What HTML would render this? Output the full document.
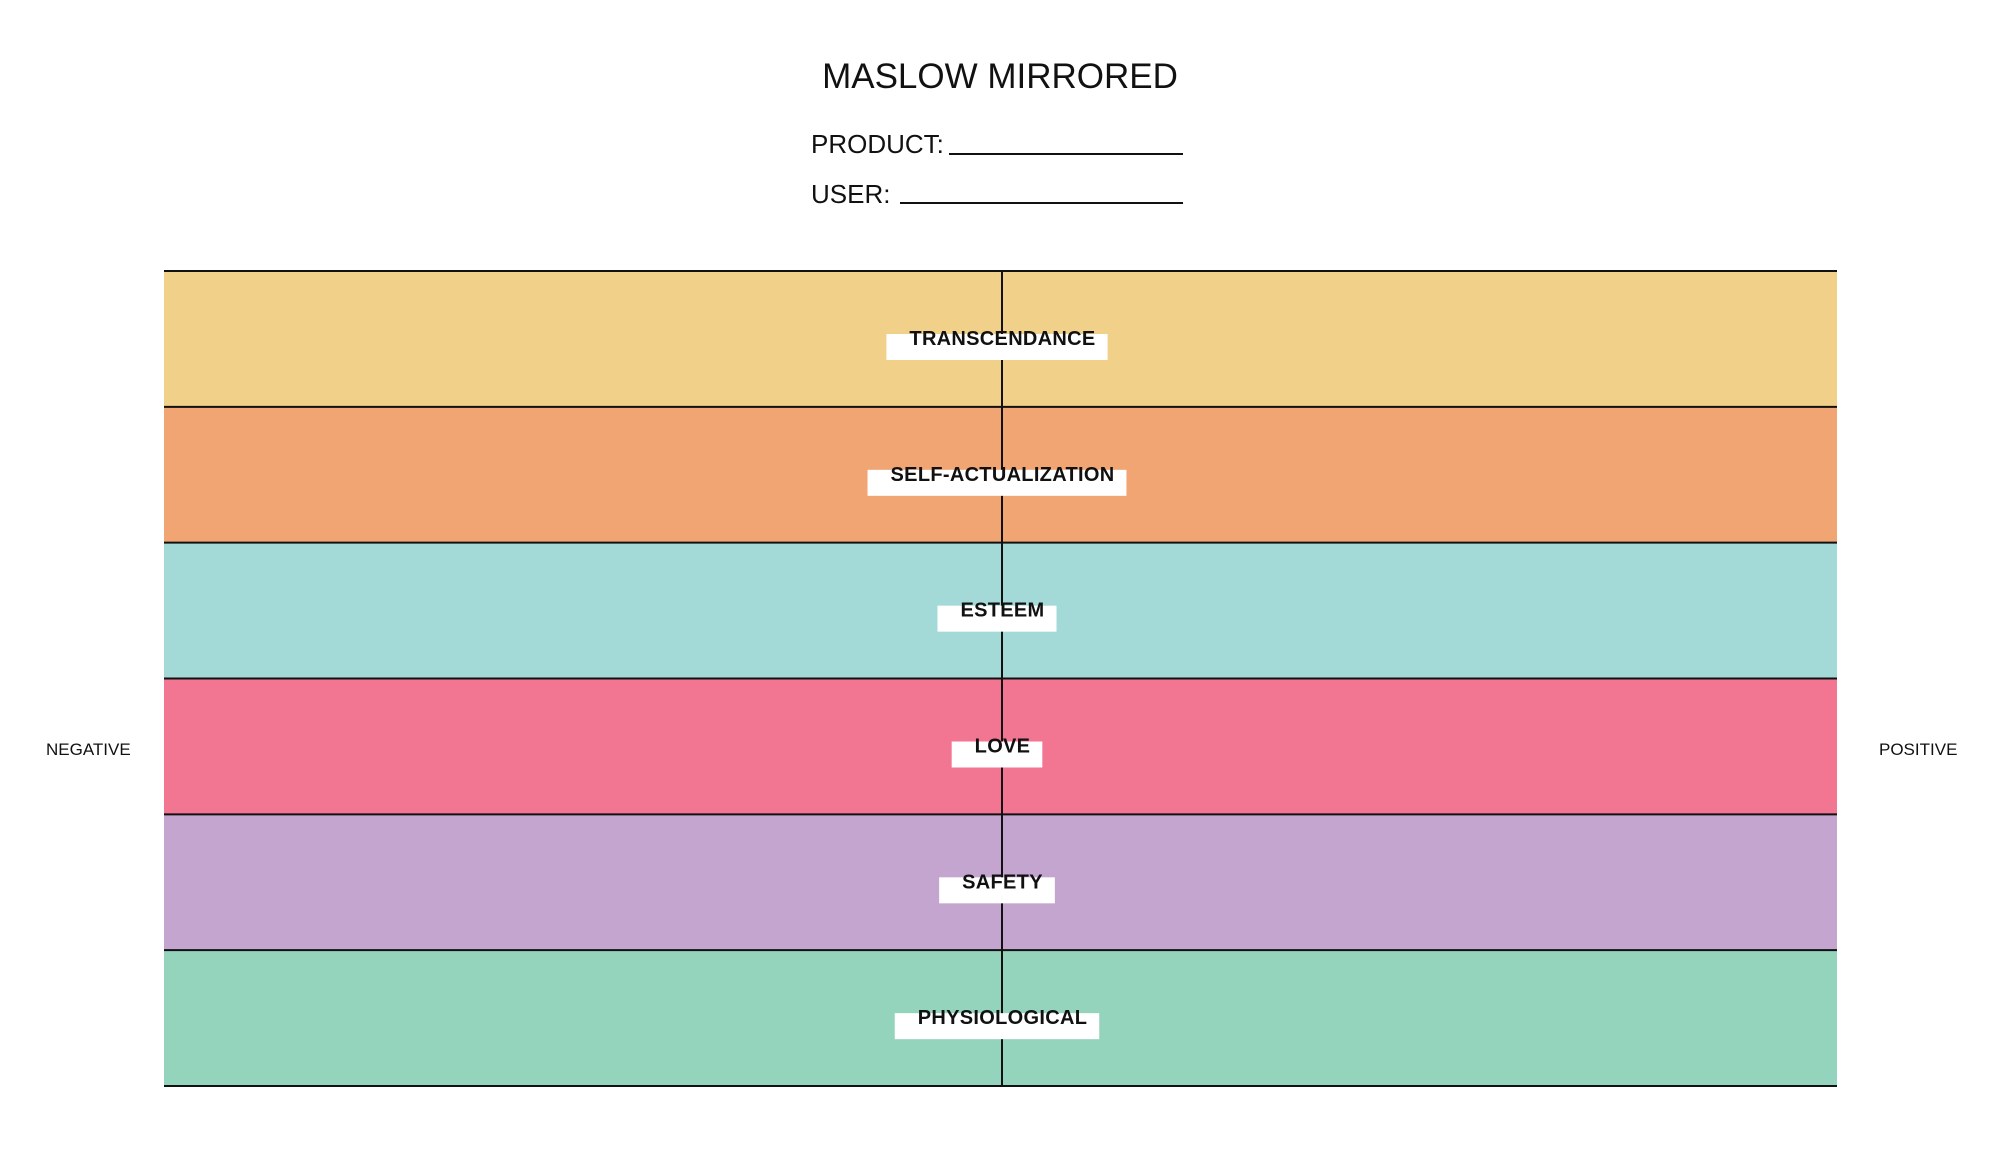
<!DOCTYPE html>
<html><head><meta charset="utf-8"><style>
html,body{margin:0;padding:0;background:#fff;}
svg{display:block;font-family:"Liberation Sans",sans-serif;}
</style></head><body>
<svg id="chart" width="2000" height="1161" viewBox="0 0 2000 1161">
  <text x="1000" y="88" text-anchor="middle" font-size="35" fill="#111">MASLOW MIRRORED</text>
  <text x="811" y="153" font-size="26" fill="#111">PRODUCT:</text>
  <line x1="949" y1="154" x2="1183" y2="154" stroke="#111" stroke-width="2"/>
  <text x="811" y="203" font-size="26" fill="#111">USER:</text>
  <line x1="900" y1="203" x2="1183" y2="203" stroke="#111" stroke-width="2"/>
  <text x="46" y="755" font-size="17" fill="#111">NEGATIVE</text>
  <text x="1879" y="755" font-size="17" fill="#111">POSITIVE</text>
  <g id="bands"></g>
</svg>
<script>
const levels = ["TRANSCENDANCE","SELF-ACTUALIZATION","ESTEEM","LOVE","SAFETY","PHYSIOLOGICAL"];
const colors = ["#F1D18A","#F0A573","#A3D9D7","#F27592","#C4A5CF","#94D4BD"];
const NS = "http://www.w3.org/2000/svg";
const plotLeft = 164, plotRight = 1837, plotTop = 271, plotBottom = 1086, midX = 1002;
const bh = (plotBottom - plotTop) / levels.length;
const g = document.getElementById('bands');
function yOf(i){ return plotTop + i * bh; }
levels.forEach((name, i) => {
  const r = document.createElementNS(NS, 'rect');
  r.setAttribute('x', plotLeft); r.setAttribute('y', yOf(i));
  r.setAttribute('width', plotRight - plotLeft); r.setAttribute('height', bh);
  r.setAttribute('fill', colors[i]);
  
  
  g.appendChild(r);
});
for (let i = 0; i <= levels.length; i++) {
  const l = document.createElementNS(NS, 'line');
  l.setAttribute('x1', plotLeft); l.setAttribute('x2', plotRight);
  l.setAttribute('y1', yOf(i)); l.setAttribute('y2', yOf(i));
  l.setAttribute('stroke', '#111'); l.setAttribute('stroke-width', '2');
  
  
  g.appendChild(l);
}
const axisLine = document.createElementNS(NS, 'line');
axisLine.setAttribute('x1', midX); axisLine.setAttribute('x2', midX);
axisLine.setAttribute('y1', plotTop); axisLine.setAttribute('y2', plotBottom);
axisLine.setAttribute('stroke', '#111'); axisLine.setAttribute('stroke-width', '2');


g.appendChild(axisLine);
levels.forEach((name, i) => {
  const t = document.createElementNS(NS, 'text');
  t.textContent = name;
  t.setAttribute('font-size', '20'); t.setAttribute('font-weight', 'bold');
  t.setAttribute('fill', '#111');
  t.setAttribute('letter-spacing', '0.3');
  t.setAttribute('y', yOf(i) + 74);
  
  
  g.appendChild(t);
  let w = 0;
  try { w = t.getComputedTextLength(); } catch (e) { w = name.length * 13; }
  if (!w) w = name.length * 13;
  const boxW = w + 35;
  const bx = midX - 5 - boxW / 2;
  t.setAttribute('x', bx + 23);
  const b = document.createElementNS(NS, 'rect');
  b.setAttribute('x', bx); b.setAttribute('y', yOf(i) + 63);
  b.setAttribute('width', boxW); b.setAttribute('height', 26);
  b.setAttribute('fill', '#fff');
  
  
  g.insertBefore(b, t);
});
</script>
</body></html>
